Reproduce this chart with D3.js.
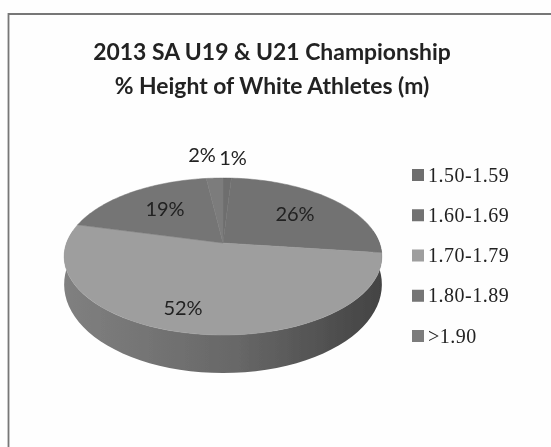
<!DOCTYPE html>
<html>
<head>
<meta charset="utf-8">
<script src="https://cdn.jsdelivr.net/npm/d3@7"></script>
<style>
  html, body { margin: 0; padding: 0; background: #fff; }
  svg { display: block; }
  text { font-family: Lato, "Open Sans", sans-serif; fill: #222; }
</style>
</head>
<body>
<script>
const titleLines = ["2013 SA U19 & U21 Championship", "% Height of White Athletes (m)"];
const categories = ["1.50-1.59", "1.60-1.69", "1.70-1.79", "1.80-1.89", ">1.90"];
const percents = [1, 26, 52, 19, 2];
const greys = ["#6e6e6e", "#727272", "#9e9e9e", "#747474", "#7c7c7c"];

const width = 551, height = 447;
const svg = d3.select("body").append("svg").attr("width", width).attr("height", height);

// scanned page look
const defs = svg.append("defs");
defs.append("filter").attr("id", "scan")
  .append("feGaussianBlur").attr("stdDeviation", 0.45);
const sideGrad = defs.append("linearGradient").attr("id", "side");
sideGrad.append("stop").attr("offset", "0%").attr("stop-color", "#808080");
sideGrad.append("stop").attr("offset", "55%").attr("stop-color", "#676767");
sideGrad.append("stop").attr("offset", "100%").attr("stop-color", "#434343");

svg.append("rect").attr("width", width).attr("height", height).attr("fill", "#fefefe");

const root = svg.append("g").attr("filter", "url(#scan)");

// frame runs off the right and bottom of the scan
root.append("path")
  .attr("d", "M8.5,447V14H551")
  .attr("fill", "none").attr("stroke", "#777").attr("stroke-width", 1.8);

root.append("g").selectAll("text").data(titleLines).join("text")
  .attr("x", 272)
  .attr("y", (d, i) => 60 + i * 34)
  .attr("text-anchor", "middle")
  .attr("font-size", 22.9)
  .attr("font-weight", 700)
  .text(d => d);

// perspective disc: plane point (u,v) on the unit circle to the screen
const cx = 223, cy = 243, rx = 156.5, ry = 76.2, tilt = 0.172, depth = 38;
function rim(a, drop) {
  const u = Math.sin(a), v = -Math.cos(a), w = 1 - tilt * v;
  // wall looks shorter towards the back of the disc
  const wall = drop ? drop * (0.68 + 0.32 * v) : 0;
  return [cx + rx * u / w, cy + ry * v / w + wall];
}
function arcPoints(a0, a1, drop) {
  return d3.range(0, 61).map(i => rim(a0 + (a1 - a0) * i / 60, drop));
}
const line = d3.line();

const arcs = d3.pie().sort(null)(percents);

// side wall, only the part facing the viewer
const frontA = Math.PI / 2 - 0.17, frontB = Math.PI * 1.5 + 0.17;
root.append("path")
  .attr("d", line(arcPoints(frontA, frontB, 0).concat(arcPoints(frontB, frontA, depth))) + "Z")
  .attr("fill", "url(#side)");

root.append("g").selectAll("path").data(arcs).join("path")
  .attr("d", d => line([[cx, cy]].concat(arcPoints(d.startAngle, d.endAngle, 0))) + "Z")
  .attr("fill", (d, i) => greys[i])
  .attr("stroke", (d, i) => greys[i])
  .attr("stroke-width", 0.5);

// data labels
const labelSpots = [[233, 165], [295, 221], [183, 315], [165, 216], [202, 162]];
root.append("g").selectAll("text").data(percents).join("text")
  .attr("x", (d, i) => labelSpots[i][0])
  .attr("y", (d, i) => labelSpots[i][1])
  .attr("text-anchor", "middle")
  .attr("font-size", 20)
  .attr("fill", "#333")
  .text(d => d + "%");

// legend
const legendY = d3.scalePoint().domain(categories).range([175, 336]);
const legend = root.append("g").selectAll("g").data(categories).join("g")
  .attr("transform", d => `translate(412,${legendY(d)})`);
legend.append("rect")
  .attr("y", -6).attr("width", 12).attr("height", 12)
  .attr("fill", (d, i) => greys[i]);
legend.append("text")
  .attr("x", 16).attr("y", 6.5)
  .attr("font-size", 20)
  .attr("letter-spacing", 0.5)
  .style("font-family", "'Liberation Serif', serif")
  .attr("fill", "#222")
  .text(d => d);
</script>
</body>
</html>
